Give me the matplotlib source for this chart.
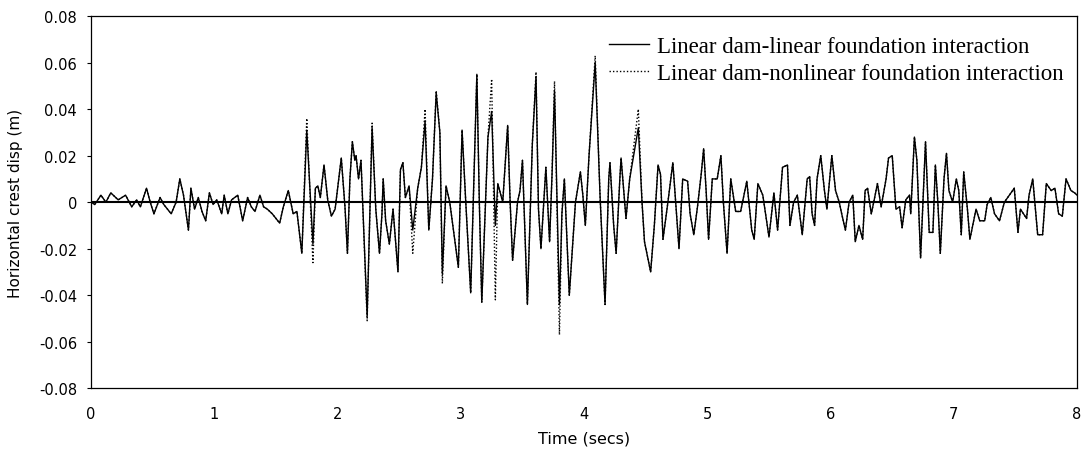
import matplotlib
matplotlib.use("Agg")
import matplotlib.pyplot as plt
import numpy as np

# time (s) of the turning points
time_s = [
    0.00, 0.03, 0.08, 0.12, 0.16, 0.22, 0.28, 0.33, 0.37, 0.40,
    0.45, 0.48, 0.51, 0.56, 0.59, 0.65, 0.69, 0.72, 0.75, 0.79,
    0.81, 0.84, 0.87, 0.90, 0.93, 0.96, 0.99, 1.02, 1.06, 1.08,
    1.11, 1.14, 1.19, 1.23, 1.27, 1.30, 1.33, 1.37, 1.40, 1.43,
    1.47, 1.53, 1.56, 1.60, 1.64, 1.67, 1.71, 1.75, 1.80, 1.82,
    1.84, 1.86, 1.89, 1.92, 1.95, 1.98, 2.03, 2.06, 2.08, 2.10,
    2.12, 2.14, 2.15, 2.17, 2.19, 2.24, 2.28, 2.31, 2.34, 2.36,
    2.37, 2.39, 2.42, 2.45, 2.49, 2.51, 2.53, 2.55, 2.58, 2.61,
    2.65, 2.68, 2.71, 2.74, 2.77, 2.80, 2.83, 2.85, 2.88, 2.91,
    2.94, 2.98, 3.01, 3.04, 3.08, 3.13, 3.15, 3.17, 3.22, 3.25,
    3.28, 3.30, 3.34, 3.38, 3.40, 3.42, 3.46, 3.48, 3.50, 3.54,
    3.58, 3.61, 3.63, 3.65, 3.69, 3.72, 3.74, 3.76, 3.80, 3.82,
    3.84, 3.88, 3.93, 3.97, 3.99, 4.01, 4.04, 4.09, 4.13, 4.17,
    4.20, 4.21, 4.24, 4.26, 4.29, 4.30, 4.34, 4.37, 4.44, 4.47,
    4.49, 4.54, 4.57, 4.60, 4.62, 4.64, 4.68, 4.72, 4.77, 4.80,
    4.84, 4.86, 4.89, 4.92, 4.95, 4.97, 4.99, 5.01, 5.04, 5.08,
    5.11, 5.13, 5.16, 5.19, 5.23, 5.27, 5.32, 5.36, 5.38, 5.41,
    5.45, 5.50, 5.54, 5.57, 5.61, 5.65, 5.67, 5.70, 5.73, 5.77,
    5.81, 5.83, 5.85, 5.87, 5.89, 5.92, 5.95, 5.97, 6.01, 6.04,
    6.07, 6.09, 6.12, 6.15, 6.18, 6.20, 6.23, 6.26, 6.28, 6.30,
    6.33, 6.35, 6.38, 6.41, 6.45, 6.47, 6.50, 6.53, 6.56, 6.58,
    6.61, 6.64, 6.65, 6.68, 6.70, 6.73, 6.77, 6.80, 6.83, 6.85,
    6.87, 6.89, 6.92, 6.94, 6.96, 6.99, 7.02, 7.04, 7.06, 7.08,
    7.11, 7.13, 7.18, 7.21, 7.25, 7.27, 7.30, 7.33, 7.37, 7.41,
    7.45, 7.49, 7.52, 7.54, 7.59, 7.61, 7.64, 7.68, 7.72, 7.75,
    7.79, 7.82, 7.85, 7.88, 7.91, 7.95, 7.98, 8.00,
]

# linear dam - linear foundation (m)
disp_linear = [
    0.000, -0.001, 0.003, 0.000, 0.004, 0.001, 0.003, -0.002, 0.001, -0.002,
    0.006, 0.000, -0.005, 0.002, -0.001, -0.005, 0.000, 0.010, 0.003, -0.012,
    0.006, -0.003, 0.002, -0.004, -0.008, 0.004, -0.001, 0.001, -0.005, 0.003,
    -0.005, 0.001, 0.003, -0.008, 0.002, -0.002, -0.004, 0.003, -0.002, -0.003,
    -0.005, -0.009, -0.002, 0.005, -0.005, -0.004, -0.022, 0.031, -0.018, 0.006,
    0.007, 0.002, 0.016, 0.001, -0.006, -0.003, 0.019, -0.002, -0.022, 0.010,
    0.026, 0.018, 0.020, 0.010, 0.018, -0.049, 0.032, -0.003, -0.022, -0.005,
    0.010, -0.008, -0.018, -0.003, -0.030, 0.014, 0.017, 0.002, 0.007, -0.012,
    0.006, 0.015, 0.035, -0.012, 0.010, 0.047, 0.030, -0.031, 0.007, 0.000,
    -0.012, -0.028, 0.031, 0.000, -0.039, 0.055, 0.000, -0.043, 0.028, 0.039,
    -0.010, 0.008, 0.000, 0.033, 0.000, -0.025, 0.000, 0.005, 0.018, -0.044,
    0.025, 0.054, -0.003, -0.020, 0.015, -0.017, 0.012, 0.048, -0.044, -0.005,
    0.010, -0.040, 0.000, 0.013, 0.003, -0.010, 0.020, 0.060, 0.002, -0.044,
    0.010, 0.017, -0.010, -0.022, 0.010, 0.019, -0.007, 0.010, 0.032, 0.000,
    -0.017, -0.030, -0.010, 0.016, 0.012, -0.016, 0.000, 0.017, -0.020, 0.010,
    0.009, -0.005, -0.014, -0.002, 0.012, 0.023, 0.005, -0.016, 0.010, 0.010,
    0.020, 0.000, -0.022, 0.010, -0.004, -0.004, 0.009, -0.012, -0.016, 0.008,
    0.003, -0.015, 0.004, -0.012, 0.015, 0.016, -0.010, 0.000, 0.003, -0.014,
    0.010, 0.011, -0.005, -0.010, 0.010, 0.020, 0.005, -0.003, 0.020, 0.005,
    0.000, -0.005, -0.012, 0.000, 0.003, -0.017, -0.010, -0.016, 0.005, 0.006,
    -0.005, 0.000, 0.008, -0.002, 0.010, 0.019, 0.020, -0.003, -0.002, -0.011,
    0.001, 0.003, -0.005, 0.028, 0.018, -0.024, 0.026, -0.013, -0.013, 0.016,
    0.000, -0.022, 0.010, 0.021, 0.005, 0.000, 0.010, 0.005, -0.014, 0.013,
    -0.003, -0.016, -0.003, -0.008, -0.008, -0.001, 0.002, -0.005, -0.008, 0.000,
    0.003, 0.006, -0.013, -0.003, -0.007, 0.003, 0.010, -0.014, -0.014, 0.008,
    0.005, 0.006, -0.005, -0.006, 0.010, 0.005, 0.004, 0.003,
]

# peaks where the nonlinear-foundation trace departs from the linear one
nl_peak_times = [1.75, 1.80, 2.24, 2.28, 2.61, 2.71, 2.80, 2.85, 3.25, 3.28,
                 3.61, 3.76, 3.80, 4.09, 4.44]
nl_peak_values = [0.036, -0.026, -0.051, 0.034, -0.022, 0.040, 0.048, -0.035, 0.053, -0.042,
                  0.056, 0.052, -0.057, 0.063, 0.040]

disp_nonlinear = list(disp_linear)
for tp, vp in zip(nl_peak_times, nl_peak_values):
    disp_nonlinear[time_s.index(tp)] = vp

y_ticks = [0.08, 0.06, 0.04, 0.02, 0, -0.02, -0.04, -0.06, -0.08]
y_tick_labels = ["0.08", "0.06", "0.04", "0.02", "0", "-0.02", "-0.04", "-0.06", "-0.08"]
x_ticks = [0, 1, 2, 3, 4, 5, 6, 7, 8]

fig = plt.figure(figsize=(10.88, 4.52), dpi=100)
ax = fig.add_axes([0.0837, 0.139, 0.9063, 0.823])

ax.plot(time_s, disp_linear, color="black", lw=1.0, ls="-",
        label="Linear dam-linear foundation interaction")
ax.plot(time_s, disp_nonlinear, color="black", lw=1.0, ls=(0, (1, 1.5)),
        label="Linear dam-nonlinear foundation interaction")
ax.axhline(0, color="black", lw=1.5, zorder=3)

ax.set_xlim(0, 8)
ax.set_ylim(-0.08, 0.08)
ax.set_yticks(y_ticks)
ax.set_yticklabels(y_tick_labels)
ax.set_xticks(x_ticks)
ax.set_xticklabels([str(v) for v in x_ticks])
ax.tick_params(axis="y", direction="out", length=3, width=0.8, labelsize=10.5, pad=7)
ax.tick_params(axis="x", length=0, labelsize=10.5, pad=13)
for lab in ax.get_xticklabels() + ax.get_yticklabels():
    lab.set_family("DejaVu Sans")
for sp in ax.spines.values():
    sp.set_linewidth(0.9)

ax.set_xlabel("Time (secs)", fontsize=11.5, family="DejaVu Sans")
ax.set_ylabel("Horizontal crest disp (m)", fontsize=11, family="DejaVu Sans")
ax.xaxis.set_label_coords(0.5, -0.113)
ax.yaxis.set_label_coords(-0.069, 0.5)

leg = ax.legend(loc="upper right", bbox_to_anchor=(1.0, 0.985), frameon=False,
                prop={"family": "Liberation Serif", "size": 16.5},
                handlelength=1.75, handletextpad=0.35, labelspacing=0.28, borderaxespad=0.2)

fig.savefig("out.png", dpi=100)
